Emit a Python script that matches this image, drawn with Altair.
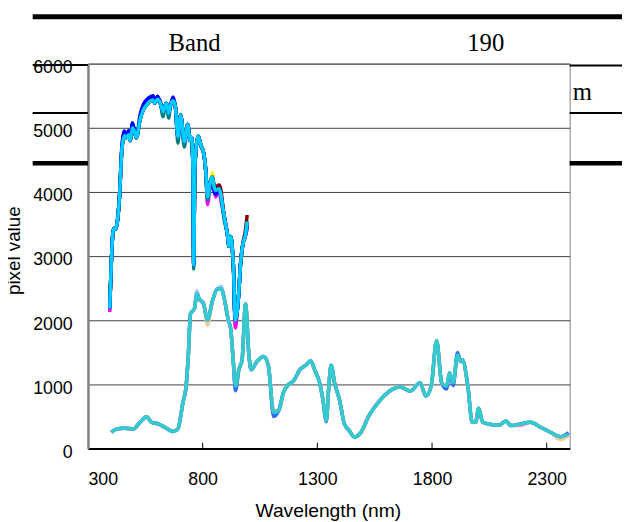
import altair as alt
import pandas as pd

# ---------------- data ----------------
# Upper family of spectra (series 1-9), base = top-drawn sky-blue line
UP_WL = [395, 412, 420, 437, 448, 459, 468, 477, 484, 494, 505, 511, 527, 541, 556,
         570, 584, 591, 603, 613, 628, 635, 642, 652, 660, 671, 681, 692, 704, 720,
         735, 745, 752, 758, 761, 766, 781, 793, 804, 814, 821, 835, 843, 850, 857,
         872, 878, 893, 908, 915, 922, 929, 936, 939, 943, 951, 958, 965, 975, 987, 994]
UP_BASE = [2184, 3430, 3420, 3900, 4665, 4875, 4845, 4890, 4800, 5000, 4920, 4845, 5127, 5280, 5357,
           5410, 5435, 5383, 5445, 5410, 5255, 5330, 5383, 5230, 5350, 5420, 5330, 4860, 5200, 4780,
           5050, 4800, 4850, 4300, 2870, 4400, 4870, 4715, 4614, 4307, 3922, 4180, 4230, 4076, 4025,
           4050, 3973, 3640, 3333, 3153, 3307, 3127, 2665, 2204, 2000, 2153, 2460, 2870, 3180, 3333, 3538]
UP_COLORS = ["#000080", "#FF00FF", "#FFFF00", "#00FFFF", "#800080",
             "#800000", "#008080", "#0000FF", "#00CCFF"]
UP_DIFF = {
    "#000080": {459: 4930, 494: 5060, 541: 5340, 570: 5470, 584: 5490, 603: 5480, 994: 3450},
    "#FF00FF": {395: 2130, 821: 3800, 857: 3920, 878: 3900, 939: 2100, 943: 1880, 994: 3420},
    "#FFFF00": {843: 4300},
    "#00FFFF": {},
    "#800080": {613: 5440, 936: 2600},
    "#800000": {570: 5440, 857: 4080, 872: 4110, 878: 4060, 987: 3420, 994: 3640},
    "#008080": {628: 5170, 652: 5150, 692: 4760, 720: 4700, 761: 2800, 821: 3880, 893: 3580},
    "#0000FF": {448: 4720, 459: 4950, 477: 4960, 494: 5080, 527: 5200, 541: 5360, 556: 5440,
                570: 5480, 584: 5500, 603: 5490, 671: 5480, 821: 3950, 835: 4100, 850: 4000,
                857: 3960, 994: 3480},
    "#00CCFF": {},
}

# Lower family of spectra (series 10-18), base = top-drawn turquoise line
LO_WL = [402, 426, 455, 498, 527, 556, 577, 606, 635, 671, 692, 714, 728, 738, 747,
         764, 775, 785, 804, 821, 843, 865, 882, 893, 912, 922, 934, 943, 958, 972,
         987, 1001, 1011, 1037, 1066, 1087, 1109, 1131, 1152, 1174, 1195, 1224, 1252, 1271, 1288,
         1310, 1324, 1339, 1350, 1360, 1375, 1396, 1418, 1439, 1461, 1490, 1525, 1554, 1590, 1626,
         1662, 1705, 1748, 1773, 1796, 1820, 1842, 1863, 1877, 1892, 1911, 1925, 1932, 1956, 1975,
         1990, 2003, 2021, 2050, 2093, 2122, 2143, 2186, 2229, 2273, 2316, 2359, 2395]
LO_BASE = [256, 308, 318, 308, 410, 497, 410, 385, 333, 266, 308, 718, 974, 1487, 2102,
           2180, 2410, 2333, 2256, 2000, 2307, 2487, 2487, 2358, 2000, 1872, 1333, 974, 1230, 1384,
           2256, 1487, 1230, 1358, 1435, 1281, 564, 589, 872, 1000, 1051, 1230, 1307, 1370, 1230,
           1025, 769, 436, 974, 1300, 1025, 769, 385, 282, 180, 256, 513, 667, 820, 923,
           959, 897, 1025, 820, 974, 1680, 1025, 974, 1180, 1025, 1461, 1358, 1384, 974, 410,
           410, 630, 410, 380, 365, 430, 359, 385, 410, 333, 256, 185, 220]
LO_COLORS = ["#CCFFFF", "#CCFFCC", "#FFFF99", "#99CCFF", "#FF99CC",
             "#CC99FF", "#FFCC99", "#3366FF", "#33CCCC"]
LO_DIFF = {
    "#CCFFFF": {},
    "#CCFFCC": {1911: 1500},
    "#FFFF99": {},
    "#99CCFF": {775: 2460, 882: 2530},
    "#FF99CC": {1911: 1420, 2186: 360},
    "#CC99FF": {943: 940, 1109: 600, 1820: 1660},
    "#FFCC99": {821: 1920, 1490: 230, 2359: 140, 2395: 200},
    "#3366FF": {943: 900, 1109: 500, 1339: 420, 1863: 930, 1892: 980, 1911: 1500, 2395: 250},
    "#33CCCC": {},
}

X_TICKS = [300, 800, 1300, 1800, 2300]
Y_TICKS = [0, 1000, 2000, 3000, 4000, 5000, 6000]

# ---------------- build table ----------------
rows = []
order = 0
for group_wl, base, colors, diffs in [(UP_WL, UP_BASE, UP_COLORS, UP_DIFF),
                                      (LO_WL, LO_BASE, LO_COLORS, LO_DIFF)]:
    for c in colors:
        name = f"s{order:02d}"
        for w, v in zip(group_wl, base):
            rows.append({"series": name, "wl": w, "value": diffs[c].get(w, v)})
        order += 1
df = pd.DataFrame(rows)
series_names = [f"s{i:02d}" for i in range(18)]
series_colors = UP_COLORS + LO_COLORS

lines = alt.Chart(df).mark_line(strokeWidth=3.5, interpolate="monotone").encode(
    x=alt.X("wl:Q", scale=alt.Scale(domain=[300, 2400], nice=False, zero=False),
            axis=alt.Axis(values=X_TICKS, format="d", title="Wavelength (nm)", grid=False,
                          ticks=False, labelPadding=22, domainColor="black", domainWidth=2,
                          labelFont="Liberation Sans", labelFontSize=18, labelColor="black",
                          titleFont="Liberation Sans", titleColor="black",
                          titleX=243, titleY=63, titleBaseline="middle",
                          titleFontWeight="normal", titleFontSize=19.5)),
    y=alt.Y("value:Q", scale=alt.Scale(domain=[0, 6000], nice=False),
            axis=alt.Axis(values=Y_TICKS, format="d", title="pixel value", grid=True, ticks=False,
                          labelPadding=16, labelOffset=4, domainColor="#808080", domainWidth=2.5,
                          labelFont="Liberation Sans", labelFontSize=18, labelColor="black",
                          titleFont="Liberation Sans", titleColor="black",
                          gridColor="#404040", gridWidth=1,
                          titleX=-75, titleY=189, titleAngle=270, titleAlign="center",
                          titleBaseline="middle", titleFontWeight="normal", titleFontSize=19)),
    color=alt.Color("series:N", scale=alt.Scale(domain=series_names, range=series_colors),
                    legend=None),
    order=alt.Order("wl:Q"),
)

tick_df = pd.DataFrame({"t": X_TICKS[1:]})
inner_ticks = alt.Chart(tick_df).mark_rule(color="black", strokeWidth=1).encode(
    x="t:Q", y=alt.value(390), y2=alt.value(384))

# ---------------- surrounding document fragments ----------------
one = alt.InlineData(values=[{"a": 1}])


def seg(x1, x2, y, w):
    return alt.Chart(one).mark_rule(color="black", strokeWidth=w).encode(
        x=alt.value(x1), x2=alt.value(x2), y=alt.value(y))


def txt(s, x, y, align):
    return alt.Chart(one).mark_text(text=s, font="Liberation Serif", fontSize=25,
                                    color="black", align=align, baseline="middle").encode(
        x=alt.value(x), y=alt.value(y))


deco = [
    seg(-56, 541, -47.5, 5),
    seg(-56, 0, 1.5, 2), seg(-56, 0, 50, 2), seg(-56, 0, 101, 4.5),
    seg(488, 541, 2, 2), seg(488, 541, 50, 2), seg(488, 541, 101, 4.5),
    txt("Band", 108, -21, "center"),
    txt("190", 403, -21, "center"),
    txt("m", 491, 29, "left"),
]

chart = alt.layer(*deco, lines, inner_ticks).properties(
    width=488, height=390,
    background="white",
    autosize=alt.AutoSizeParams(type="none"),
    padding={"left": 81, "top": 53, "right": 53, "bottom": 71},
).configure_view(
    stroke="#808080", strokeWidth=1
)

chart.save("out.html", embed_options={"renderer": "svg", "actions": False})
